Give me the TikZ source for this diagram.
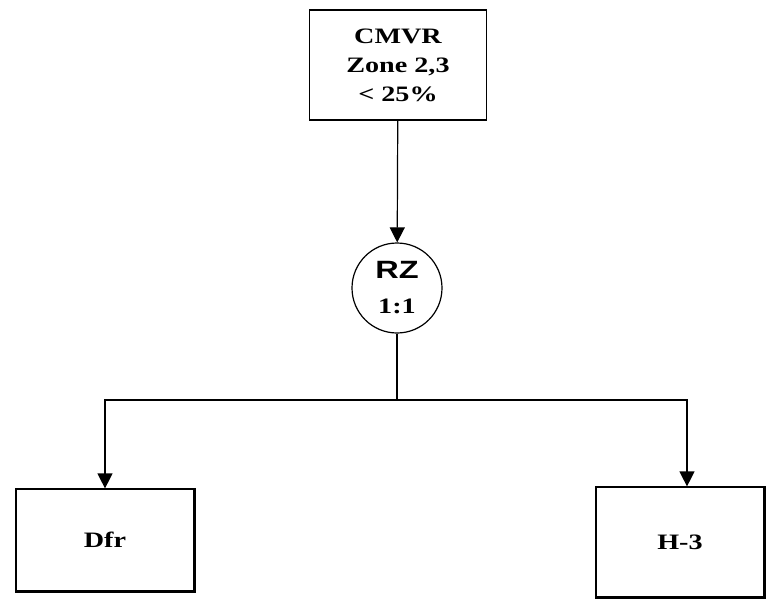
\documentclass[tikz,border=0pt]{standalone}
\usepackage{fontspec}
\setmainfont[FakeStretch=1.28]{Liberation Serif}
\setsansfont[FakeStretch=1.3]{Liberation Sans}
\usetikzlibrary{arrows.meta}

\begin{document}
\begin{tikzpicture}[
    x=1pt, y=-1pt,
    >={Triangle[length=15pt,width=15pt]},
    line width=1.2pt,
    font=\fontsize{22}{29}\selectfont\bfseries,
    box/.style={
        draw,
        rectangle,
        align=center,
        inner sep=0pt
    },
    arm/.style={
        draw,
        circle,
        minimum size=90pt,
        inner sep=0pt,
        align=center
    },
    shade/.style={
        line width=2.6pt
    }
]
\useasboundingbox (0,0) rectangle (766,602);

\node[box, minimum width=177pt, minimum height=110pt] (cmvr) at (398,65)
    {CMVR\\Zone 2,3\\< 25\%};
\node[arm] (rz) at (397,288)
    {{\sffamily\fontsize{25}{26}\selectfont RZ}\\[6pt]1:1};
\node[box, minimum width=178pt, minimum height=102pt] (dfr) at (105,540) {Dfr};
\node[box, minimum width=168pt, minimum height=110pt] (h3) at (680,542) {H-3};
\coordinate (split) at (397,400);

% shadow edges of the lower boxes
\draw[shade] (dfr.north east) -- (dfr.south east) -- (dfr.south west);
\draw[shade] (h3.north east) -- (h3.south east) -- (h3.south west);

\draw[->] (cmvr) -- (rz);
\draw (rz) -- (split);
\draw[->] (split) -| (dfr.north);
\draw[->] (split) -| ([xshift=7pt]h3.north);
\end{tikzpicture}
\end{document}
